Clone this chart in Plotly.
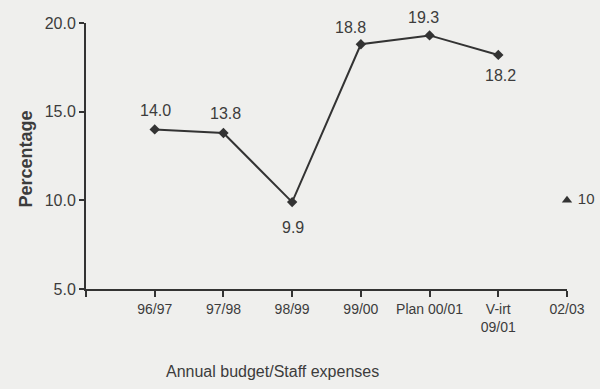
import plotly.graph_objects as go

# Budget share spent on staff, by budget year
periods = ["96/97", "97/98", "98/99", "99/00", "Plan 00/01", "V-irt<br>09/01", "02/03"]
staff_pct = [14.0, 13.8, 9.9, 18.8, 19.3, 18.2]
target_period = "02/03"
target_pct = 10

y_ticks = [5, 10, 15, 20]

# value-label offsets (pixels) relative to each point
label_dx = [1, 2, 1, -10, -6, 2]
label_dy = [19, 19, -25, 17, 18, -21]

ink = "#333333"
text_ink = "#3c3c3c"
bg = "#efefed"
font = "Liberation Sans, Arial, sans-serif"

x_pos = list(range(1, len(periods) + 1))
actual_x = x_pos[:len(staff_pct)]
target_x = x_pos[periods.index(target_period)]

fig = go.Figure()

fig.add_trace(go.Scatter(
    x=actual_x, y=staff_pct,
    mode="lines+markers",
    line=dict(color=ink, width=2),
    marker=dict(symbol="diamond", size=8, color=ink),
    cliponaxis=False,
    showlegend=False,
))

for xv, yv, dx, dy in zip(actual_x, staff_pct, label_dx, label_dy):
    fig.add_annotation(
        x=xv, y=yv, text=f"{yv:.1f}", showarrow=False,
        xshift=dx, yshift=dy, xanchor="center", yanchor="middle",
        font=dict(family=font, size=16, color=text_ink),
    )

fig.add_trace(go.Scatter(
    x=[target_x], y=[target_pct],
    mode="markers+text",
    marker=dict(symbol="triangle-up", size=9, color=ink),
    text=[f" {target_pct}"],
    textposition="middle right",
    textfont=dict(family=font, size=15, color=text_ink),
    cliponaxis=False,
    showlegend=False,
))

fig.update_xaxes(
    range=[0, len(periods)],
    tickvals=[0] + x_pos,
    ticktext=[""] + periods,
    showline=True, linecolor=ink, linewidth=2,
    ticks="outside", ticklen=6, tickwidth=2, tickcolor=ink,
    tickfont=dict(family=font, size=14, color=text_ink),
    showgrid=False, zeroline=False,
)
fig.update_yaxes(
    range=[5, 20],
    tickvals=y_ticks,
    ticktext=[f"{t:.1f}" for t in y_ticks],
    showline=True, linecolor=ink, linewidth=2,
    ticks="outside", ticklen=5, tickwidth=2, tickcolor=ink,
    tickfont=dict(family=font, size=16, color=text_ink),
    showgrid=False, zeroline=False,
)

fig.add_annotation(
    text="<b>Percentage</b>", textangle=-90,
    xref="paper", yref="paper", x=-0.125, y=0.49,
    xanchor="center", yanchor="middle", showarrow=False,
    font=dict(family=font, size=18, color=text_ink),
)
fig.add_annotation(
    text="Annual budget/Staff expenses",
    xref="paper", yref="paper", x=0.387, y=-0.31,
    xanchor="center", yanchor="middle", showarrow=False,
    font=dict(family=font, size=16, color=text_ink),
)

fig.update_layout(
    width=600, height=389,
    margin=dict(l=86, r=33, t=23, b=100),
    paper_bgcolor=bg, plot_bgcolor=bg,
)

fig.write_html("out.html")
